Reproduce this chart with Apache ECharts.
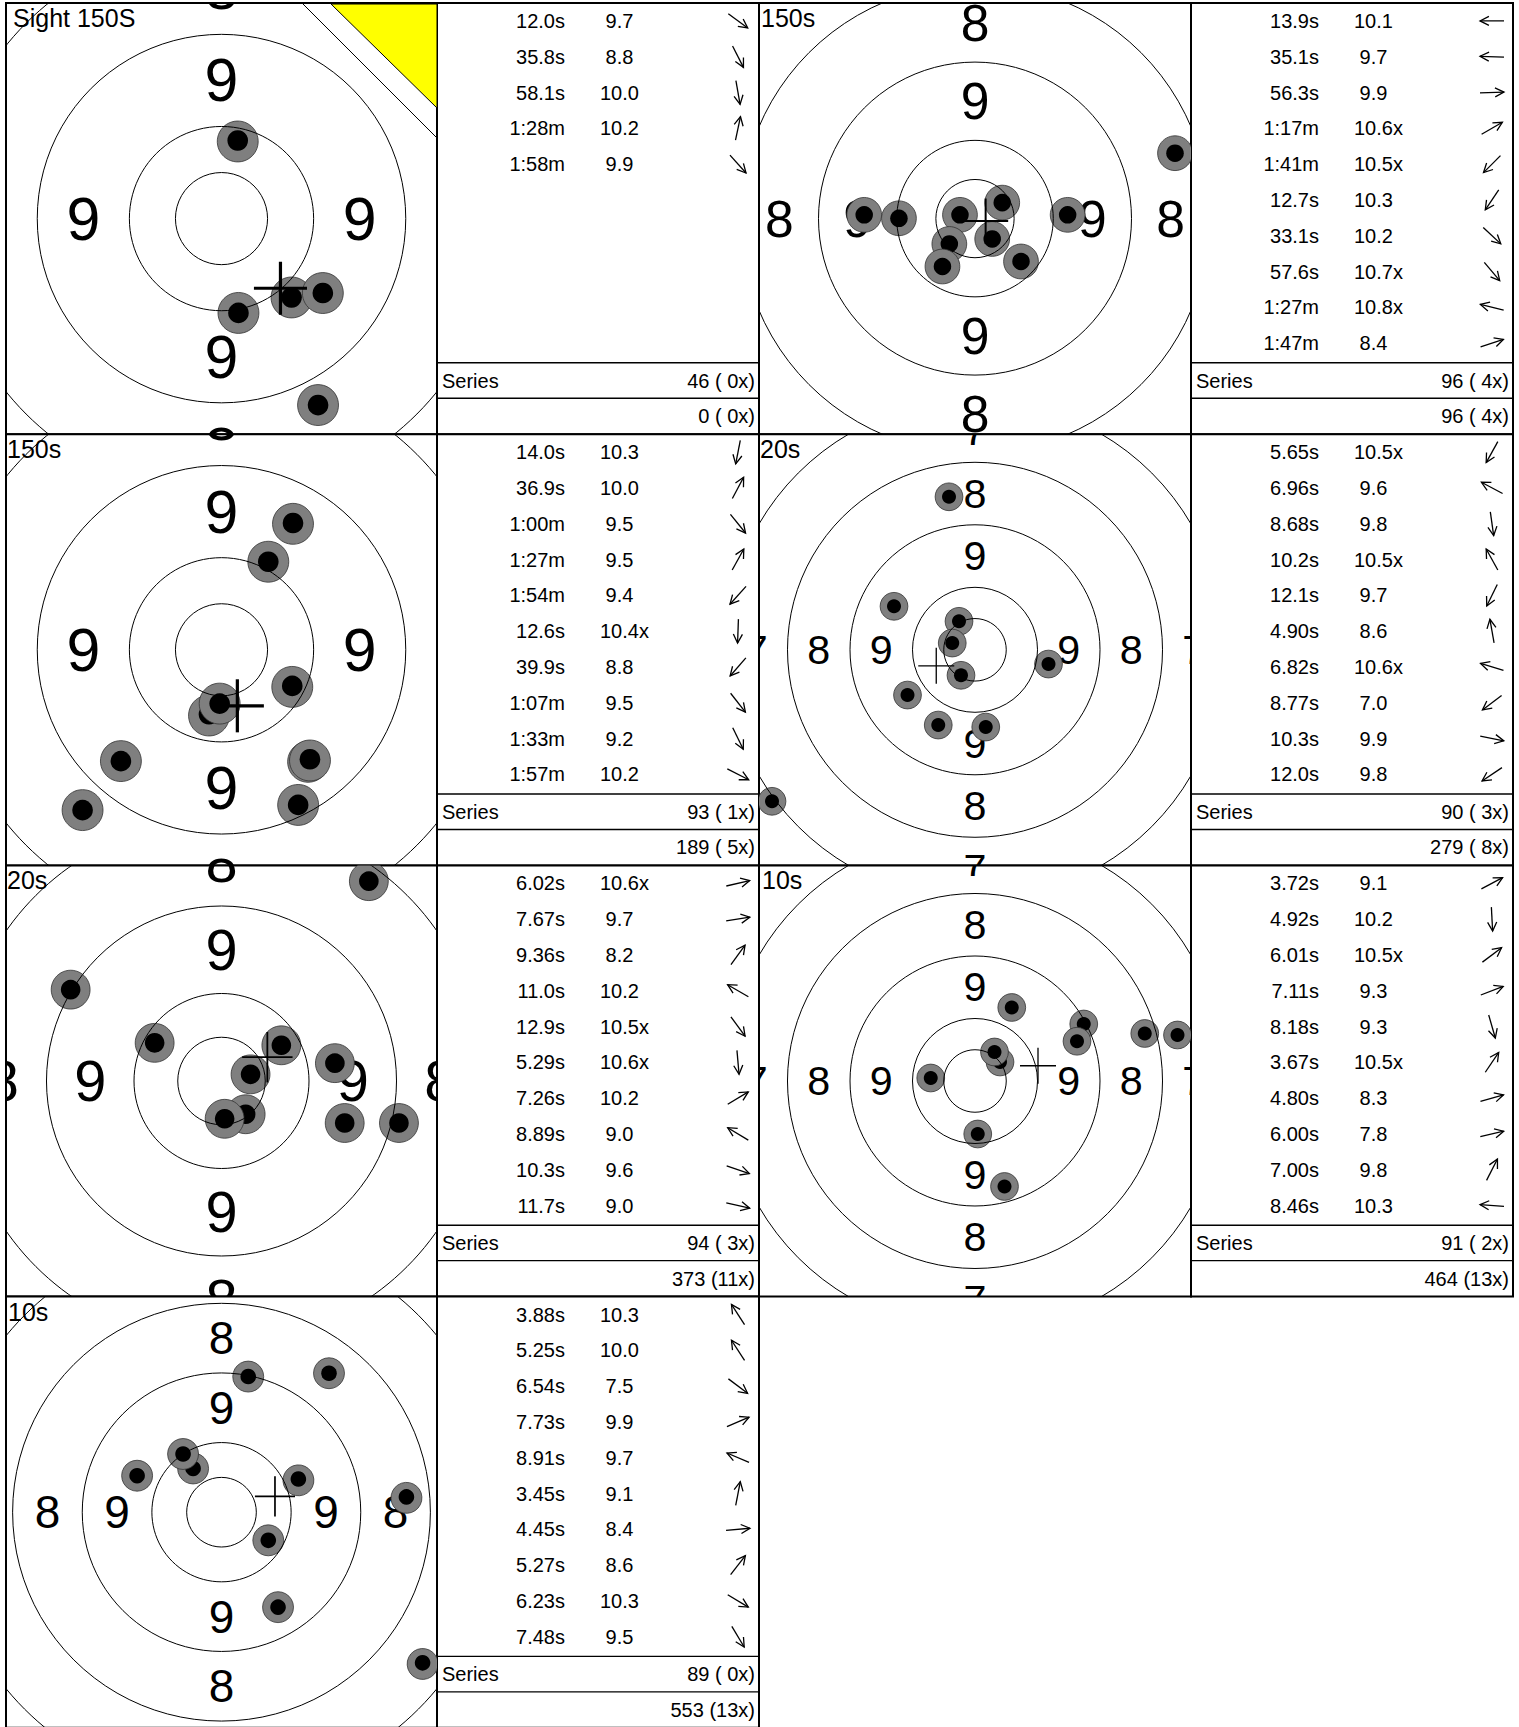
<!DOCTYPE html>
<html><head><meta charset="utf-8"><title>Targets</title>
<script src="https://cdn.jsdelivr.net/npm/echarts@6.0.0/dist/echarts.min.js"></script>
<style>html,body{margin:0;padding:0;background:#fff;}#chart{width:1519px;height:1727px;}</style>
</head><body><div id="chart"></div>
<script>
// ================= DATA =================
const targetNames = ['Sight 150S', '150s', '150s', '20s', '20s', '10s', '10s'];
const ringRadiiMm = [12.5, 25, 50, 75, 100, 125, 150];
const ringLabels = ['9', '8', '7', '6', '5'];
const seriesLabel = 'Series';

// Target 1 (sighting)
const t1ShotX = [4.4, 4.6, 19.0, 27.5, 26.2];
const t1ShotY = [21.2, -25.6, -21.4, -20.2, -50.6];
const t1Cross = [16.0, -18.9];
const t1Times = ['12.0s', '35.8s', '58.1s', '1:28m', '1:58m'];
const t1Scores = ['9.7', '8.8', '10.0', '10.2', '9.9'];
const t1Arrows = [-36, -63, -80, 78, -48];
const t1Series = '46 ( 0x)';
const t1Total = '0 ( 0x)';

// Target 2
const t2ShotX = [63.9, -35.4, -24.3, -4.8, 8.7, 5.5, -8.2, -10.4, 14.7, 29.6];
const t2ShotY = [20.9, 1.2, 0.1, 1.2, 5.1, -6.5, -8.1, -15.3, -13.7, 1.2];
const t2Cross = [3.4, -0.8];
const t2Times = ['13.9s', '35.1s', '56.3s', '1:17m', '1:41m', '12.7s', '33.1s', '57.6s', '1:27m', '1:47m'];
const t2Scores = ['10.1', '9.7', '9.9', '10.6x', '10.5x', '10.3', '10.2', '10.7x', '10.8x', '8.4'];
const t2Arrows = [180, 178, 2, 30, -135, -124, -43, -50, 166, 18];
const t2Series = '96 ( 4x)';
const t2Total = '96 ( 4x)';

// Target 3
const t3ShotX = [19.4, 12.7, 19.2, -3.4, -0.5, -27.3, -37.7, 23.5, 24.0, 20.8];
const t3ShotY = [34.4, 23.9, -9.8, -17.5, -14.6, -30.2, -43.5, -30.4, -29.7, -42.1];
const t3Cross = [4.3, -15.2];
const t3Times = ['14.0s', '36.9s', '1:00m', '1:27m', '1:54m', '12.6s', '39.9s', '1:07m', '1:33m', '1:57m'];
const t3Scores = ['10.3', '10.0', '9.5', '9.5', '9.4', '10.4x', '8.8', '9.5', '9.2', '10.2'];
const t3Arrows = [-101, 62, -51, 61, -132, -92, -131, -52, -64, -27];
const t3Series = '93 ( 1x)';
const t3Total = '189 ( 5x)';

// Target 4
const t4ShotX = [-10.4, -32.4, -6.4, -9.1, -5.6, 29.4, -27.0, -14.7, 4.3, -81.2];
const t4ShotY = [61.2, 17.4, 11.4, 2.7, -10.2, -5.7, -18.1, -30.1, -30.9, -60.6];
const t4Cross = [-15.5, -6.4];
const t4Times = ['5.65s', '6.96s', '8.68s', '10.2s', '12.1s', '4.90s', '6.82s', '8.77s', '10.3s', '12.0s'];
const t4Scores = ['10.5x', '9.6', '9.8', '10.5x', '9.7', '8.6', '10.6x', '7.0', '9.9', '9.8'];
const t4Arrows = [-119, 152, -82, 119, -116, 100, 163, -143, -11, -146];
const t4Series = '90 ( 3x)';
const t4Total = '279 ( 8x)';

// Target 5
const t5ShotX = [42.1, -43.1, -19.1, 17.1, 8.3, 32.4, 6.9, 0.9, 35.2, 50.7];
const t5ShotY = [57.1, 26.1, 10.9, 10.2, 1.9, 5.1, -9.5, -10.8, -12.0, -12.0];
const t5Cross = [13.1, 6.8];
const t5Times = ['6.02s', '7.67s', '9.36s', '11.0s', '12.9s', '5.29s', '7.26s', '8.89s', '10.3s', '11.7s'];
const t5Scores = ['10.6x', '9.7', '8.2', '10.2', '10.5x', '10.6x', '10.2', '9.0', '9.6', '9.0'];
const t5Arrows = [13, 9, 54, 150, -54, -85, 31, 149, -19, -13];
const t5Series = '94 ( 3x)';
const t5Total = '373 (11x)';

// Target 6
const t6ShotX = [14.7, 43.5, 40.8, 67.9, 81.0, 10.0, 7.8, -17.7, 1.1, 11.8];
const t6ShotY = [29.4, 22.8, 15.9, 19.0, 18.4, 7.6, 11.6, 1.2, -21.2, -42.2];
const t6Cross = [25.2, 6.1];
const t6Times = ['3.72s', '4.92s', '6.01s', '7.11s', '8.18s', '3.67s', '4.80s', '6.00s', '7.00s', '8.46s'];
const t6Scores = ['9.1', '10.2', '10.5x', '9.3', '9.3', '10.5x', '8.3', '7.8', '9.8', '10.3'];
const t6Arrows = [28, -87, 37, 21, -74, 56, 16, 13, 63, 176];
const t6Series = '91 ( 2x)';
const t6Total = '464 (13x)';

// Target 7
const t7ShotX = [9.6, 38.6, -10.2, -13.8, -30.3, 27.6, 16.8, 66.4, 20.3, 72.2];
const t7ShotY = [48.7, 49.9, 15.7, 20.9, 13.1, 11.9, -10.1, 5.5, -34.1, -54.1];
const t7Cross = [19.2, 5.7];
const t7Times = ['3.88s', '5.25s', '6.54s', '7.73s', '8.91s', '3.45s', '4.45s', '5.27s', '6.23s', '7.48s'];
const t7Scores = ['10.3', '10.0', '7.5', '9.9', '9.7', '9.1', '8.4', '8.6', '10.3', '9.5'];
const t7Arrows = [123, 123, -37, 23, 157, 79, 5, 52, -31, -59];
const t7Series = '89 ( 0x)';
const t7Total = '553 (13x)';

// ================= LAYOUT / STYLE =================
const FONT = '"Liberation Sans", Arial, Helvetica, sans-serif';
const colX = [6, 437, 759, 1191];
const colW = [431, 322, 432, 322];
const rowH = 431.2;
const rowY = [3, 3 + rowH, 3 + 2 * rowH, 3 + 3 * rowH];
const ROW_PITCH = 35.8;
const SHOT_R = 5.55, DOT_R = 2.8, CROSS_HALF = 7.2, LABEL_FONT_MM = 16.5;

const targets = [
  {col: 0, row: 0, pxPerMm: 3.685, crossW: 3.2, nameDx: 7, sx: t1ShotX, sy: t1ShotY, cross: t1Cross, times: t1Times, scores: t1Scores, arrows: t1Arrows, ser: t1Series, tot: t1Total},
  {col: 2, row: 0, pxPerMm: 3.13, crossW: 2.0, nameDx: 2, sx: t2ShotX, sy: t2ShotY, cross: t2Cross, times: t2Times, scores: t2Scores, arrows: t2Arrows, ser: t2Series, tot: t2Total},
  {col: 0, row: 1, pxPerMm: 3.685, crossW: 3.2, nameDx: 1, sx: t3ShotX, sy: t3ShotY, cross: t3Cross, times: t3Times, scores: t3Scores, arrows: t3Arrows, ser: t3Series, tot: t3Total},
  {col: 2, row: 1, pxPerMm: 2.5, crossW: 1.3, nameDx: 1, sx: t4ShotX, sy: t4ShotY, cross: t4Cross, times: t4Times, scores: t4Scores, arrows: t4Arrows, ser: t4Series, tot: t4Total},
  {col: 0, row: 2, pxPerMm: 3.5, crossW: 1.8, nameDx: 1, sx: t5ShotX, sy: t5ShotY, cross: t5Cross, times: t5Times, scores: t5Scores, arrows: t5Arrows, ser: t5Series, tot: t5Total},
  {col: 2, row: 2, pxPerMm: 2.5, crossW: 1.3, nameDx: 3, sx: t6ShotX, sy: t6ShotY, cross: t6Cross, times: t6Times, scores: t6Scores, arrows: t6Arrows, ser: t6Series, tot: t6Total},
  {col: 0, row: 3, pxPerMm: 2.785, crossW: 1.7, nameDx: 2, sx: t7ShotX, sy: t7ShotY, cross: t7Cross, times: t7Times, scores: t7Scores, arrows: t7Arrows, ser: t7Series, tot: t7Total}
];

function txt(text, x, y, size, align, valign) {
  return {type: 'text', style: {text: text, x: x, y: y, font: size + 'px ' + FONT, fill: '#000',
    textAlign: align, align: align, textVerticalAlign: valign, verticalAlign: valign}};
}

const grids = [], xAxes = [], yAxes = [], series = [], graphics = [];
function addAxes(min, max, ymin, ymax, inverse) {
  xAxes.push({type: 'value', gridIndex: grids.length - 1, min: min, max: max, show: false, splitLine: {show: false}});
  yAxes.push({type: 'value', gridIndex: grids.length - 1, min: ymin, max: ymax, inverse: !!inverse, show: false, splitLine: {show: false}});
  return grids.length - 1;
}

targets.forEach(function (t, ti) {
  // ----- target grid -----
  const gl = colX[t.col], gt = rowY[t.row], gw = colW[t.col];
  grids.push({left: gl, top: gt, width: gw, height: rowH, show: true, borderColor: '#000', borderWidth: 2,
    backgroundColor: '#fff', containLabel: false, outerBoundsMode: 'none'});
  const hx = gw / 2 / t.pxPerMm, hy = rowH / 2 / t.pxPerMm;
  const gi = addAxes(-hx, hx, -hy, hy, false);
  const base = {type: 'custom', coordinateSystem: 'cartesian2d', xAxisIndex: gi, yAxisIndex: gi, clip: true, silent: true, animation: false};

  // ring numbers (only those that reach into the visible panel)
  series.push(Object.assign({}, base, {z: 2,
    data: ringLabels.map(function (l, k) { return [k, 0]; }),
    renderItem: function (params, api) {
      const k = api.value(0);
      const rmm = (ringRadiiMm[k + 1] + ringRadiiMm[k + 2]) / 2;
      const c = api.coord([0, 0]);
      const r = api.size([rmm, 0])[0];
      const fs = api.size([LABEL_FONT_MM, 0])[0];
      const cs = params.coordSys;
      const lab = ringLabels[k];
      const ch = [];
      const reachY = cs.height / 2 + fs * 0.36;
      const reachX = cs.width / 2 + fs * 0.28;
      if (r < reachY) {
        ch.push(txt(lab, c[0], c[1] - r, fs, 'center', 'middle'));
        ch.push(txt(lab, c[0], c[1] + r, fs, 'center', 'middle'));
      }
      if (r < reachX) {
        ch.push(txt(lab, c[0] - r, c[1], fs, 'center', 'middle'));
        ch.push(txt(lab, c[0] + r, c[1], fs, 'center', 'middle'));
      }
      return {type: 'group', children: ch};
    }}));

  // shots
  series.push(Object.assign({}, base, {z: 3,
    data: t.sx.map(function (x, i) { return [x, t.sy[i]]; }),
    renderItem: function (params, api) {
      const p = api.coord([api.value(0), api.value(1)]);
      const r = api.size([SHOT_R, 0])[0];
      const rb = api.size([DOT_R, 0])[0];
      return {type: 'group', children: [
        {type: 'circle', shape: {cx: p[0], cy: p[1], r: r}, style: {fill: '#7f7f7f', stroke: '#333', lineWidth: 0.8}},
        {type: 'circle', shape: {cx: p[0], cy: p[1], r: rb}, style: {fill: '#000'}}
      ]};
    }}));

  // rings
  series.push(Object.assign({}, base, {z: 4,
    data: ringRadiiMm.map(function (r) { return [r, 0]; }),
    renderItem: function (params, api) {
      const c = api.coord([0, 0]);
      const r = api.size([api.value(0), 0])[0];
      return {type: 'circle', shape: {cx: c[0], cy: c[1], r: r}, style: {fill: 'none', stroke: '#000', lineWidth: 1}};
    }}));

  // mean cross
  series.push(Object.assign({}, base, {z: 5,
    data: [[t.cross[0], t.cross[1]]],
    renderItem: function (params, api) {
      const p = api.coord([api.value(0), api.value(1)]);
      const h = api.size([CROSS_HALF, 0])[0];
      const st = {stroke: '#000', lineWidth: t.crossW};
      return {type: 'group', children: [
        {type: 'line', shape: {x1: p[0] - h, y1: p[1], x2: p[0] + h, y2: p[1]}, style: st},
        {type: 'line', shape: {x1: p[0], y1: p[1] - h, x2: p[0], y2: p[1] + h}, style: st}
      ]};
    }}));

  // target name
  graphics.push({type: 'text', z: 20, x: gl + t.nameDx, y: gt + 15,
    style: {text: targetNames[ti], font: '25px ' + FONT, fill: '#000', textAlign: 'left', align: 'left', textVerticalAlign: 'middle', verticalAlign: 'middle'}});

  // ----- table grid -----
  const tl = colX[t.col + 1], tw = colW[t.col + 1];
  grids.push({left: tl, top: gt, width: tw, height: rowH, show: true, borderColor: '#000', borderWidth: 2,
    backgroundColor: '#fff', containLabel: false, outerBoundsMode: 'none'});
  const tgi = addAxes(0, tw, -0.5, -0.5 + rowH / ROW_PITCH, true);
  const tbase = {type: 'custom', coordinateSystem: 'cartesian2d', xAxisIndex: tgi, yAxisIndex: tgi, clip: true, silent: true, animation: false, z: 3};

  series.push(Object.assign({}, tbase, {
    data: t.times.map(function (s, i) { return [0, i]; }),
    renderItem: function (params, api) {
      const i = params.dataIndex;
      const x0 = params.coordSys.x;
      const y = api.coord([0, api.value(1)])[1];
      const sc = t.scores[i];
      const scX = x0 + 163 + (parseFloat(sc) < 10 ? 5.6 : 0);
      const a = t.arrows[i] * Math.PI / 180;
      const cx = x0 + 301, L = 12, H = 10, ha = 27 * Math.PI / 180;
      const dx = Math.cos(a), dy = -Math.sin(a);
      const ex = cx + dx * L, ey = y + dy * L;
      const bx = cx - dx * L, by = y - dy * L;
      const b1 = a + Math.PI + ha, b2 = a + Math.PI - ha;
      const ast = {stroke: '#000', lineWidth: 1.3, fill: 'none'};
      return {type: 'group', children: [
        txt(t.times[i], x0 + 128, y, 20, 'right', 'middle'),
        txt(sc, scX, y, 20, 'left', 'middle'),
        {type: 'line', shape: {x1: bx, y1: by, x2: ex, y2: ey}, style: ast},
        {type: 'polyline', shape: {points: [[ex + H * Math.cos(b1), ey - H * Math.sin(b1)], [ex, ey], [ex + H * Math.cos(b2), ey - H * Math.sin(b2)]]}, style: ast}
      ]};
    }}));

  series.push(Object.assign({}, tbase, {
    data: [[0, 10]],
    renderItem: function (params, api) {
      const x0 = params.coordSys.x, w = params.coordSys.width;
      const l1 = api.coord([0, 9.55])[1], yS = api.coord([0, 10.05])[1];
      const l2 = api.coord([0, 10.54])[1], yT = api.coord([0, 11.04])[1];
      const ls = {stroke: '#000', lineWidth: 1.4};
      return {type: 'group', children: [
        {type: 'line', shape: {x1: x0, y1: l1, x2: x0 + w, y2: l1}, style: ls},
        {type: 'line', shape: {x1: x0, y1: l2, x2: x0 + w, y2: l2}, style: ls},
        txt(seriesLabel, x0 + 5, yS, 20, 'left', 'middle'),
        txt(t.ser, x0 + 318, yS, 20, 'right', 'middle'),
        txt(t.tot, x0 + 318, yT, 20, 'right', 'middle')
      ]};
    }}));
});

// sighting corner marker on target 1
(function () {
  const gl = colX[0], gt = rowY[0];
  graphics.push({type: 'polygon', z: 15, shape: {points: [[gl + 325, gt + 1], [gl + 431, gt + 1], [gl + 431, gt + 105]]},
    style: {fill: '#ffff00', stroke: '#000', lineWidth: 1}});
  graphics.push({type: 'line', z: 15, shape: {x1: gl + 297, y1: gt + 1, x2: gl + 431, y2: gt + 135}, style: {stroke: '#000', lineWidth: 1}});
})();

const chart = echarts.init(document.getElementById('chart'), null, {renderer: 'svg', width: 1519, height: 1727});
chart.setOption({
  backgroundColor: '#fff',
  animation: false,
  grid: grids,
  xAxis: xAxes,
  yAxis: yAxes,
  series: series,
  graphic: graphics
});
</script></body></html>
